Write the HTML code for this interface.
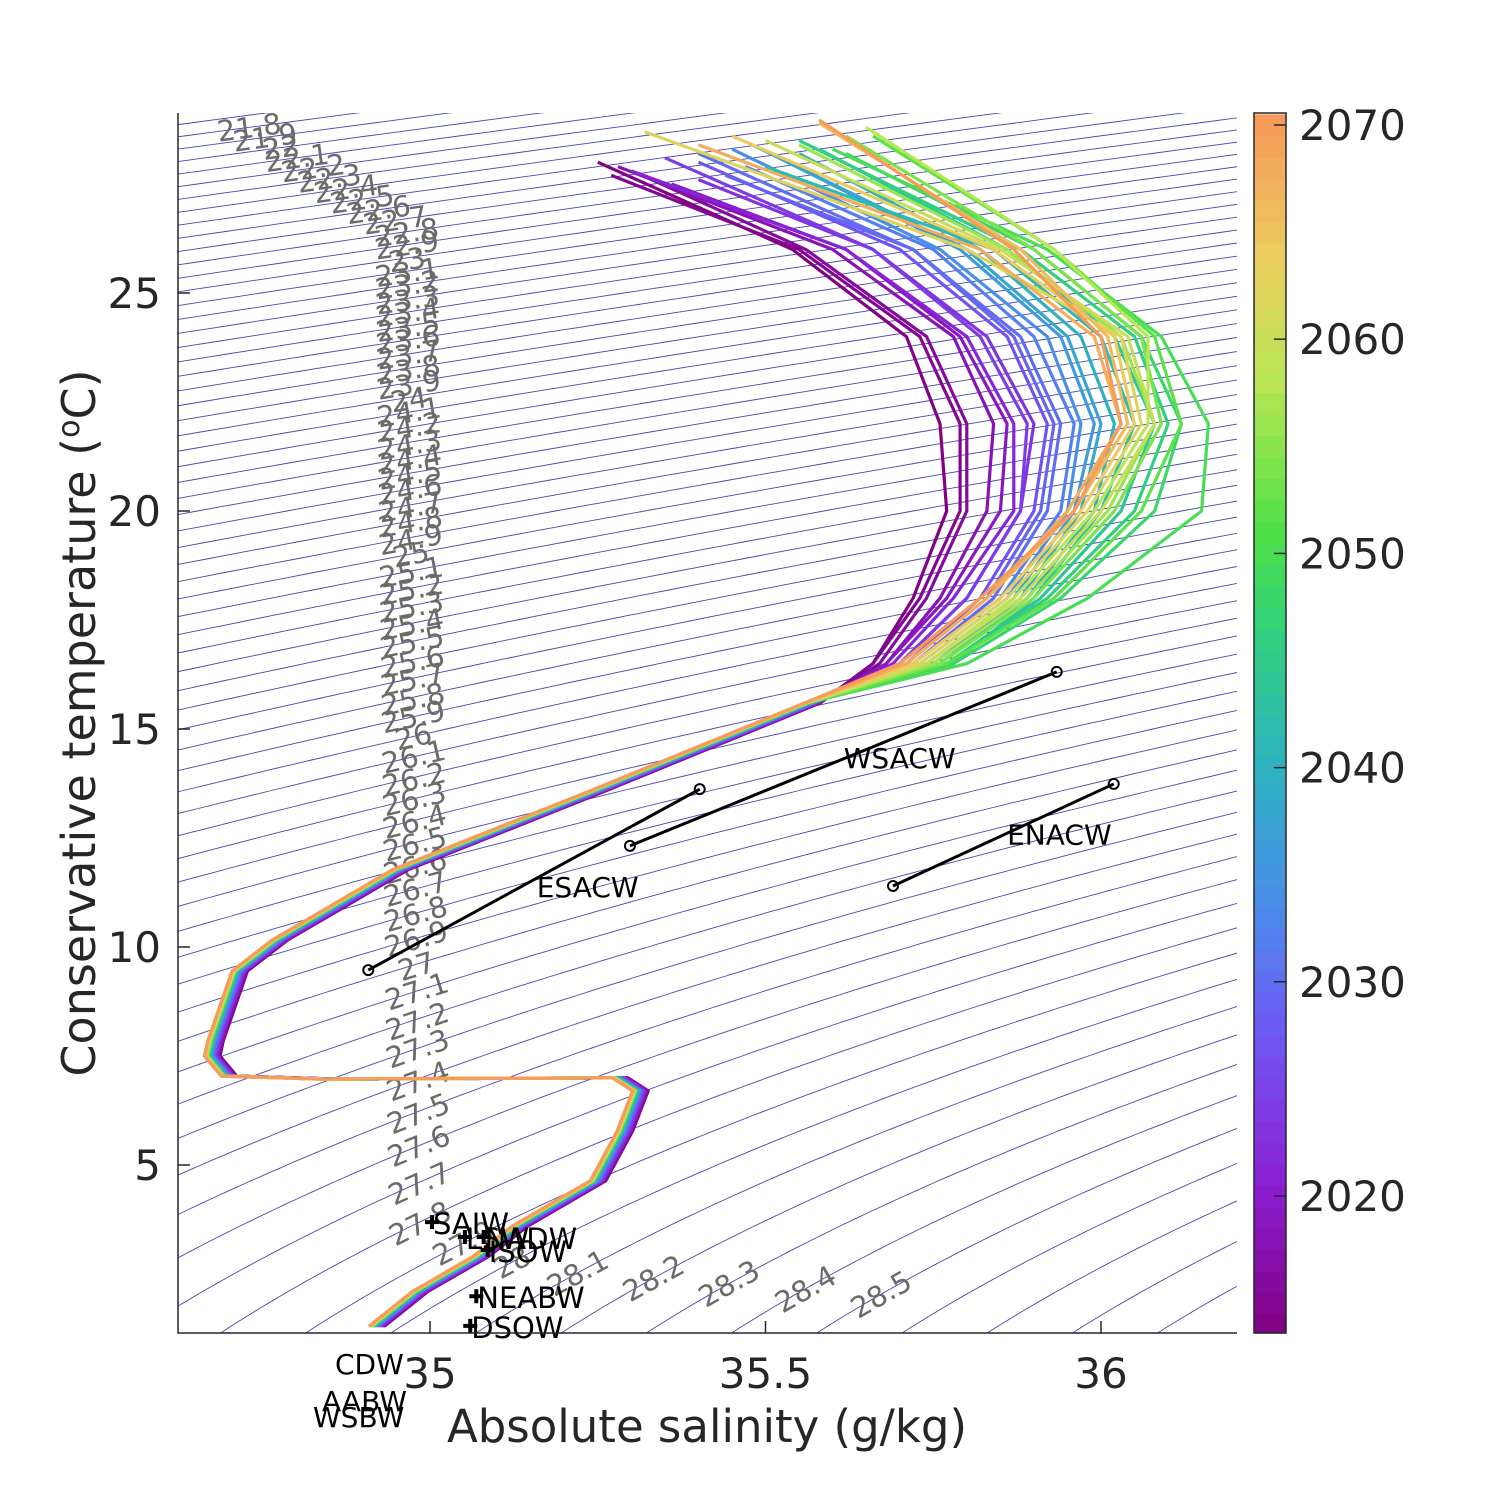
<!DOCTYPE html>
<html><head><meta charset="utf-8">
<style>
html,body{margin:0;padding:0;background:#fff;}
svg{display:block;font-family:"DejaVu Sans","Liberation Sans",sans-serif;}
</style></head>
<body>
<svg id="chart" width="1500" height="1500" viewBox="0 0 1500 1500">
<defs><clipPath id="plotclip"><rect x="178" y="113" width="1059" height="1220"/></clipPath></defs>
<rect x="0" y="0" width="1500" height="1500" fill="#fff"/>
<g id="contours" clip-path="url(#plotclip)"></g>
<g id="clabels"></g>
<g id="curves" clip-path="url(#plotclip)"></g>
<g id="watermass"></g>
<g id="axes"></g>
<g id="cbar"></g>
<text x="707" y="1442" font-size="45" text-anchor="middle" fill="#262626">Absolute salinity (g/kg)</text>
<text transform="translate(95,723) rotate(-90)" font-size="46" text-anchor="middle" fill="#262626">Conservative temperature (<tspan font-size="30" dy="-16">o</tspan><tspan dy="16">C)</tspan></text>
</svg>
<script>
// ---- data arrays ----
const xTicks = [35, 35.5, 36];
const yTicks = [5, 10, 15, 20, 25];
const cbarTicks = [2020, 2030, 2040, 2050, 2060, 2070];
const sigmaLevelsMin = 21.0, sigmaLevelsMax = 29.0;
const labelLevels = [21.8,21.9,22,22.1,22.2,22.3,22.4,22.5,22.6,22.7,22.8,22.9,23,23.1,23.2,23.3,23.4,23.5,23.6,23.7,23.8,23.9,24,24.1,24.2,24.3,24.4,24.5,24.6,24.7,24.8,24.9,25,25.1,25.2,25.3,25.4,25.5,25.6,25.7,25.8,25.9,26,26.1,26.2,26.3,26.4,26.5,26.6,26.7,26.8,26.9,27,27.1,27.2,27.3,27.4,27.5,27.6,27.7,27.8,27.9,28,28.1,28.2,28.3,28.4,28.5];
const years = [2014,2015,2016,2018,2019,2021,2023,2024,2027,2029,2030,2032,2034,2036,2038,2040,2042,2044,2046,2048,2050,2052,2054,2056,2058,2060,2062,2064,2066,2068,2070];
const surfaceT = [28.0,27.7,27.6,27.9,27.5,27.8,27.6,28.1,28.0,27.7,28.2,27.9,28.3,28.1,28.4,28.2,27.9,28.3,28.5,28.2,28.3,28.6,28.6,28.4,28.8,28.5,28.7,28.6,28.9,28.4,28.97];
const upperT = [26,24,22,20,18,16.5];
const upperS = [
 [35.25,35.54,35.71,35.76,35.77,35.72,35.66],
 [35.27,35.55,35.73,35.79,35.79,35.73,35.66],
 [35.33,35.56,35.74,35.80,35.80,35.74,35.67],
 [35.28,35.60,35.78,35.84,35.83,35.76,35.68],
 [35.36,35.62,35.79,35.86,35.85,35.77,35.68],
 [35.30,35.62,35.80,35.87,35.87,35.78,35.69],
 [35.40,35.66,35.83,35.90,35.88,35.80,35.70],
 [35.35,35.66,35.82,35.89,35.88,35.80,35.70],
 [35.40,35.70,35.86,35.92,35.90,35.82,35.71],
 [35.44,35.72,35.87,35.93,35.91,35.83,35.71],
 [35.40,35.72,35.88,35.94,35.92,35.84,35.72],
 [35.47,35.75,35.90,35.96,35.94,35.85,35.72],
 [35.45,35.76,35.92,35.97,35.95,35.86,35.73],
 [35.52,35.79,35.94,35.99,35.96,35.87,35.74],
 [35.48,35.80,35.95,36.00,35.97,35.88,35.75],
 [35.55,35.82,35.97,36.02,35.99,35.89,35.76],
 [35.50,35.84,36.00,36.05,36.00,35.90,35.78],
 [35.58,35.86,36.02,36.08,36.03,35.91,35.77],
 [35.55,35.88,36.05,36.10,36.05,35.92,35.77],
 [35.62,35.90,36.06,36.12,36.08,35.94,35.78],
 [35.60,35.92,36.09,36.16,36.15,35.98,35.80],
 [35.66,35.93,36.08,36.12,36.06,35.93,35.77],
 [35.62,35.90,36.06,36.09,36.02,35.90,35.76],
 [35.55,35.86,36.03,36.08,36.01,35.89,35.75],
 [35.65,35.93,36.07,36.07,35.99,35.87,35.74],
 [35.50,35.85,36.04,36.08,36.00,35.88,35.74],
 [35.32,35.80,36.03,36.06,35.98,35.86,35.73],
 [35.45,35.84,36.02,36.05,35.97,35.85,35.72],
 [35.58,35.88,36.01,36.04,35.96,35.83,35.71],
 [35.40,35.82,35.99,36.03,35.95,35.83,35.71],
 [35.58,35.87,36.00,36.03,35.96,35.82,35.70]
];
const lowerShift = [0.012,0.011,0.01,0.009,0.008,0.007,0.006,0.005,0.003,0.002,0.001,0.0,-0.001,-0.002,-0.003,-0.003,-0.004,-0.005,-0.005,-0.006,-0.006,-0.007,-0.007,-0.008,-0.008,-0.009,-0.009,-0.01,-0.01,-0.011,-0.011];
const lowerS = [35.57,35.253,34.955,34.776,34.716,34.68,34.675,34.70,34.85,35.283,35.313,35.29,35.25,35.134,35.075,34.985,34.92];
const lowerT = [15.6,13.6,11.77,10.16,9.45,7.85,7.5,7.04,6.97,7.0,6.7,5.78,4.64,3.6,2.9,2.1,1.3];
const lineNames = ['ESACW','WSACW','ENACW'];
const lineS1 = [34.908,35.298,35.69], lineT1 = [9.47,12.32,11.40];
const lineS2 = [35.402,35.934,36.019], lineT2 = [13.62,16.31,13.74];
const lineLabelS = [35.235,35.70,35.938], lineLabelT = [11.15,14.1,12.35];
const pointNames = ['SAIW','LSW','NADW','ISOW','NEABW','DSOW'];
const pointS = [35.003,35.052,35.08,35.086,35.069,35.06];
const pointT = [3.69,3.35,3.35,3.05,1.99,1.31];

// ---- scales ----
const X0=178,X1=1237,Y0=113,Y1=1333;
const xS = s => 430 + (s-35)*671;
const yT = t => 293 - (t-25)*43.6;
const yYear = yr => 1196 - (yr-2020)*21.42;
const NS='http://www.w3.org/2000/svg';
function mk(tag, attrs, parent){const e=document.createElementNS(NS,tag);for(const k in attrs)e.setAttribute(k,attrs[k]);parent.appendChild(e);return e;}
function sigma(S,T){return 28.13-0.0675*T-0.00505*T*T + (0.79-0.002*T)*(S-35);}
function sOf(level,T){return 35 + (level-(28.13-0.0675*T-0.00505*T*T))/(0.79-0.002*T);}

const cmStops=[[0,[128,0,128]],[0.12,[140,30,210]],[0.25,[110,90,245]],[0.35,[75,140,235]],[0.47,[45,180,190]],[0.58,[50,210,120]],[0.66,[80,225,70]],[0.78,[185,230,85]],[0.88,[235,205,95]],[1,[248,150,90]]];
function cmap(yr){const f=Math.max(0,Math.min(1,(yr-2013.6)/(2070.56-2013.6)));for(let i=1;i<cmStops.length;i++){if(f<=cmStops[i][0]){const a=cmStops[i-1],b=cmStops[i];const u=(f-a[0])/(b[0]-a[0]);const c=a[1].map((v,j)=>Math.round(v+(b[1][j]-v)*u));return 'rgb('+c.join(',')+')';}}return 'rgb(248,150,90)';}

// ---- contours ----
const cg=document.getElementById('contours');
for(let k=Math.round(sigmaLevelsMin*10);k<=Math.round(sigmaLevelsMax*10);k++){
 const lev=k/10;let d='';
 for(let T=1.0;T<=29.3;T+=0.1){const px=xS(sOf(lev,T)),py=yT(T);d+=(d?'L':'M')+px.toFixed(1)+','+py.toFixed(1);}
 const p=mk('path',{d:d,fill:'none',stroke:'#4848b0','stroke-width':'0.9'},cg);
 
 
}
const lp=[[34.73,28.8],[34.965,26.5],[34.985,3.6],[35.15,2.6],[35.7,2.0]];
const samples=[];
for(let i=0;i<lp.length-1;i++){for(let j=0;j<400;j++){const u=j/400;samples.push([lp[i][0]+(lp[i+1][0]-lp[i][0])*u,lp[i][1]+(lp[i+1][1]-lp[i][1])*u]);}}
const lg=document.getElementById('clabels');
labelLevels.forEach(lev=>{
 for(let i=1;i<samples.length;i++){
  const a=sigma(samples[i-1][0],samples[i-1][1])-lev,b=sigma(samples[i][0],samples[i][1])-lev;
  if(a*b<=0){
   const S=samples[i][0],T=samples[i][1];
   const dS=0.79-0.002*T,dT=-0.0675-0.0101*T+(-0.002)*(S-35);
   const dx=671, dy=-43.6*(-dS/dT);
   let ang=Math.atan2(dy,dx)*180/Math.PI;
   const t=mk('text',{x:0,y:0,'font-size':'29',fill:'#6b6b6b','text-anchor':'middle','dominant-baseline':'central',transform:'translate('+xS(S).toFixed(1)+','+yT(T).toFixed(1)+') rotate('+ang.toFixed(1)+')'},lg);
   
   
   t.textContent=String(lev);
   break;
  }
 }
});

// ---- TS curves ----
const cv=document.getElementById('curves');
years.forEach((yr,i)=>{
 const pts=[[upperS[i][0],surfaceT[i]]];
 upperT.forEach((t,j)=>pts.push([upperS[i][j+1],t]));
 lowerS.forEach((s,j)=>pts.push([s+lowerShift[i],lowerT[j]]));
 const d=pts.map((p,j)=>(j?'L':'M')+xS(p[0]).toFixed(1)+','+yT(p[1]).toFixed(1)).join('');
 const p=mk('path',{d:d,fill:'none',stroke:cmap(yr),'stroke-width':'3.2','stroke-linejoin':'round'},cv);
 
 
});

// ---- water masses ----
const wm=document.getElementById('watermass');
lineNames.forEach((n,i)=>{
 const l=mk('line',{x1:xS(lineS1[i]),y1:yT(lineT1[i]),x2:xS(lineS2[i]),y2:yT(lineT2[i]),stroke:'#000','stroke-width':'3'},wm);
 
 
 [[lineS1[i],lineT1[i]],[lineS2[i],lineT2[i]]].forEach(p=>{
  const c=mk('circle',{cx:xS(p[0]),cy:yT(p[1]),r:5,fill:'none',stroke:'#000','stroke-width':'2'},wm);
  
  
 });
 const t=mk('text',{x:xS(lineLabelS[i]),y:yT(lineLabelT[i]),'font-size':'28',fill:'#000','text-anchor':'middle'},wm);
 
 
 t.textContent=n;
});
pointNames.forEach((n,i)=>{
 const x=xS(pointS[i]),y=yT(pointT[i]);
 const m=mk('path',{d:'M'+(x-7)+','+y+'H'+(x+7)+'M'+x+','+(y-7)+'V'+(y+7),stroke:'#000','stroke-width':'4'},wm);
 
 
 const t=mk('text',{x:x+1,y:y+12,'font-size':'29',fill:'#000'},wm);
 
 
 t.textContent=n;
});
[['CDW',335,1374],['AABW',322,1411],['WSBW',313,1427]].forEach(a=>{
 const t=mk('text',{x:a[1],y:a[2],'font-size':'28',fill:'#000'},wm);
 
 
 t.textContent=a[0];
});

// ---- axes ----
const ax=document.getElementById('axes');
mk('path',{d:'M'+X0+','+Y0+'V'+Y1+'H'+X1,fill:'none',stroke:'#262626','stroke-width':'1.5'},ax);
xTicks.forEach(v=>{
 const x=xS(v);
 mk('line',{x1:x,y1:Y1,x2:x,y2:Y1-12,stroke:'#262626','stroke-width':'1.5'},ax);
 const t=mk('text',{x:x,y:1388,'font-size':'42',fill:'#262626','text-anchor':'middle'},ax);
 
 
 t.textContent=String(v);
});
yTicks.forEach(v=>{
 const y=yT(v);
 mk('line',{x1:X0,y1:y,x2:X0+12,y2:y,stroke:'#262626','stroke-width':'1.5'},ax);
 const t=mk('text',{x:161,y:y+15,'font-size':'42',fill:'#262626','text-anchor':'end'},ax);
 
 
 t.textContent=String(v);
});

// ---- colorbar ----
const cb=document.getElementById('cbar');
for(let yr=2014;yr<=2070;yr++){
 const yTop=Math.max(Y0,yYear(yr+0.5)),yBot=Math.min(Y1,yYear(yr-0.5));
 mk('rect',{x:1254,y:yTop,width:32,height:yBot-yTop+0.6,fill:cmap(yr)},cb);
}
mk('rect',{x:1254,y:Y0,width:32,height:Y1-Y0,fill:'none',stroke:'#262626','stroke-width':'1.5'},cb);
cbarTicks.forEach(v=>{
 const y=yYear(v);
 mk('line',{x1:1274,y1:y,x2:1286,y2:y,stroke:'#262626','stroke-width':'1.5'},cb);
 const t=mk('text',{x:1299,y:y+15,'font-size':'42',fill:'#262626'},cb);
 
 
 t.textContent=String(v);
});
</script>
</body></html>
